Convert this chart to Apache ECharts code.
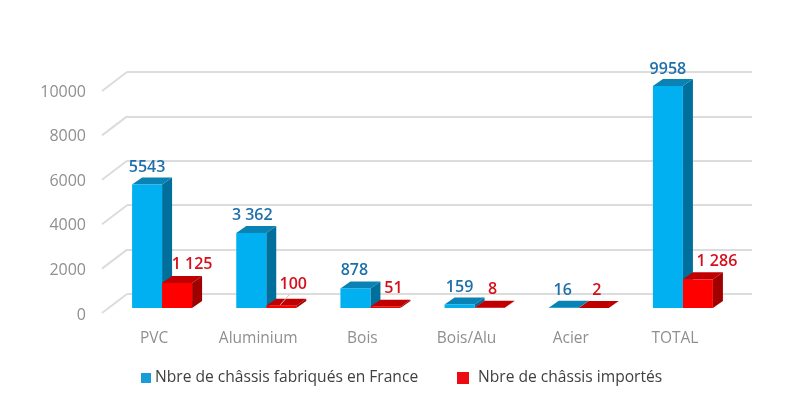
<!DOCTYPE html>
<html><head><meta charset="utf-8">
<style>html,body{margin:0;padding:0;background:#fff}#c{width:805px;height:414px}</style>
<script src="https://cdn.jsdelivr.net/npm/echarts@6/dist/echarts.min.js"></script>
</head><body><div id="c"></div>
<script>
const categories = ['PVC','Aluminium','Bois','Bois/Alu','Acier','TOTAL'];
const fabriques = [5543,3362,878,159,16,9958];
const importes = [1125,100,51,8,2,1286];
const fabriquesLabels = ['5543','3 362','878','159','16','9958'];
const importesLabels = ['1 125','100','51','8','2','1 286'];
const tickValues = [0,2000,4000,6000,8000,10000];
const nameFab = 'Nbre de châssis fabriqués en France';
const nameImp = 'Nbre de châssis importés';

const FONT = '"Open Sans", sans-serif';
const BAR_W = 30, DX = 10, DY = 7, SHIFT_X = 8, SHIFT_Y = -7;
const fabNudge = [[0,0],[1,-1],[-1,-1],[0,0],[-1,0],[0,1]];
const impNudge = [[0,-1],[-3,-4],[-7,-1],[-12,-1],[-12,-1],[4,-1]];

function barRenderer(side, colors, labels, nudge, labelColor) {
  return function (params, api) {
    const i = api.value(0), v = api.value(1);
    const p0 = api.coord([i, 0]), p1 = api.coord([i, v]);
    const x0 = p0[0] + SHIFT_X + (side === 0 ? -BAR_W : 0), x1 = x0 + BAR_W;
    const yb = p0[1] + SHIFT_Y, yt = p1[1] + SHIFT_Y;
    const poly = (points, fill) => ({type:'polygon', shape:{points}, style:{fill}});
    const children = [
      poly([[x1,yb],[x1+DX,yb-DY],[x1+DX,yt-DY],[x1,yt]], colors[2]),
      poly([[x0,yt],[x1,yt],[x1+DX,yt-DY],[x0+DX,yt-DY]], colors[1]),
      {type:'rect', shape:{x:x0,y:yt,width:BAR_W,height:yb-yt}, style:{fill:colors[0]}}
    ];
    if (side === 1 && i === 1) {
      children.push({type:'line', shape:{x1:x0+14,y1:yt-1,x2:x0+23,y2:yt-11}, style:{stroke:'#d8bcbc',lineWidth:1}});
    }
    const n = nudge[i];
    const tx = (x0 + x1) / 2 + (side === 0 ? 0 : 15) + n[0];
    children.push({type:'text', x:tx, y:yt-18+n[1]+1, style:{
      text:labels[i], fill:labelColor, font:'600 16px '+FONT, align:'center', verticalAlign:'middle'}});
    return {type:'group', children};
  };
}

const chart = echarts.init(document.getElementById('c'), null, {renderer:'canvas'});
chart.setOption({
  animation:false,
  backgroundColor:'#fff',
  grid:[
    {left:102, top:92, width:625, height:223},
    {left:127, top:72, width:625, height:222}
  ],
  xAxis:[
    {type:'category', gridIndex:0, data:categories, axisLine:{show:false}, axisTick:{show:false},
     axisLabel:{color:'#8f8f8f', fontSize:15.5, fontFamily:FONT, margin:16}},
    {type:'category', gridIndex:1, data:categories, show:false}
  ],
  yAxis:[
    {type:'value', gridIndex:0, min:0, max:10000, interval:2000, axisLine:{show:false}, axisTick:{show:false},
     splitLine:{show:false},
     axisLabel:{color:'#8f8f8f', fontSize:16, fontFamily:FONT, margin:16, formatter:v=>String(v)}},
    {type:'value', gridIndex:1, min:0, max:10000, interval:2000, axisLine:{show:false}, axisTick:{show:false},
     axisLabel:{show:false}, splitLine:{show:true, lineStyle:{color:'#dcdcdc', width:2}}}
  ],
  legend:[
    {left:136, top:365, itemWidth:10, itemHeight:10, icon:'rect',
     textStyle:{color:'#404040', fontSize:15.6, fontFamily:FONT, padding:[0,0,0,-1]},
     data:[{name:nameFab, itemStyle:{color:'#1a9cd6'}}]},
    {left:452, top:365, itemWidth:12, itemHeight:12, icon:'rect',
     textStyle:{color:'#404040', fontSize:15.6, fontFamily:FONT, padding:[0,0,0,4]},
     data:[{name:nameImp, itemStyle:{color:'#ee0a12'}}]}
  ],
  series:[
    {type:'custom', name:'walls', xAxisIndex:1, yAxisIndex:1, silent:true, z:1,
     data:tickValues.map(v=>[0,v]),
     renderItem:function(params, api){
       const y = api.coord([0, api.value(1)])[1], x = params.coordSys.x;
       return {type:'line', shape:{x1:x-25,y1:y+19,x2:x,y2:y}, style:{stroke:'#dcdcdc',lineWidth:2}};
     }},
    {type:'custom', name:nameFab, xAxisIndex:0, yAxisIndex:0, silent:true, z:2, itemStyle:{color:'#00b0f0'},
     data:fabriques.map((v,i)=>[i,v]),
     renderItem:barRenderer(0,['#00b0f0','#0a82b4','#006f9c'],fabriquesLabels,fabNudge,'#1f6fab')},
    {type:'custom', name:nameImp, xAxisIndex:0, yAxisIndex:0, silent:true, z:3, itemStyle:{color:'#ff0000'},
     data:importes.map((v,i)=>[i,v]),
     renderItem:barRenderer(1,['#ff0000','#c00000','#a00000'],importesLabels,impNudge,'#d5101c')}
  ]
});
</script></body></html>
